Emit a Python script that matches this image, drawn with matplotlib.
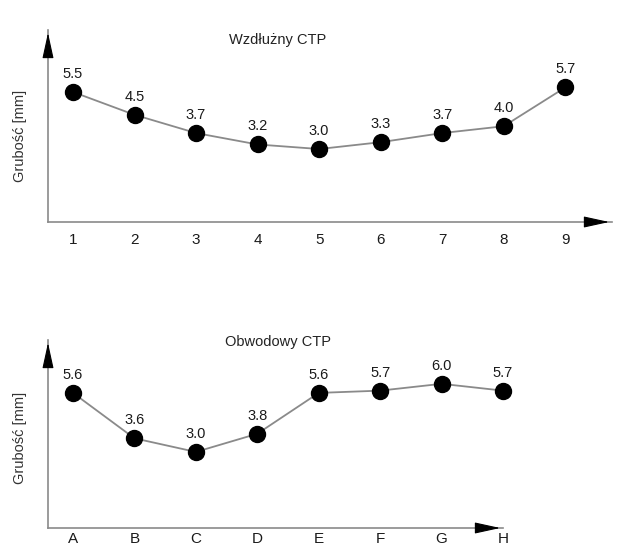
import matplotlib
matplotlib.use("Agg")
import matplotlib.pyplot as plt

plt.rcParams['font.family'] = ['Liberation Sans', 'DejaVu Sans']

# Data
top_labels = ['1', '2', '3', '4', '5', '6', '7', '8', '9']
top_values = [5.5, 4.5, 3.7, 3.2, 3.0, 3.3, 3.7, 4.0, 5.7]

bottom_labels = ['A', 'B', 'C', 'D', 'E', 'F', 'G', 'H']
bottom_values = [5.6, 3.6, 3.0, 3.8, 5.6, 5.7, 6.0, 5.7]

top_title = 'Wzdłużny CTP'
bottom_title = 'Obwodowy CTP'
ylabel = 'Grubość [mm]'

W, H = 628, 548
fig = plt.figure(figsize=(W / 100, H / 100), dpi=100)


def draw_panel(ax, labels, values, xmax, ylim, pad):
    x = list(range(1, len(labels) + 1))
    ax.plot(x, values, color='#8a8a8a', linewidth=1.3, zorder=2, clip_on=False)
    ax.plot(x, values, linestyle='none', marker='o', markersize=11.5,
            color='black', zorder=3, clip_on=False)
    for xi, v in zip(x, values):
        ax.annotate(f'{v:.1f}', (xi, v), xytext=(0, 8), textcoords='offset points',
                    ha='center', va='bottom', fontsize=10.5, color='#1a1a1a')
    ax.set_xlim(0.593, xmax)
    ax.set_ylim(*ylim)
    ax.set_xticks(x)
    ax.set_xticklabels(labels, fontsize=11, color='#1a1a1a')
    ax.set_yticks([])
    ax.tick_params(axis='x', length=0, pad=pad)
    for s in ['top', 'right']:
        ax.spines[s].set_visible(False)
    for s in ['left', 'bottom']:
        ax.spines[s].set_color('#8a8a8a')
        ax.spines[s].set_linewidth(1.2)
    # arrow heads
    ax.annotate('', xy=(0, 1), xytext=(0, 0.86), xycoords='axes fraction',
                arrowprops=dict(arrowstyle='-|>,head_length=1.6,head_width=0.35',
                                color='black', lw=0.8))
    ax.annotate('', xy=(1, 0), xytext=(0.955, 0), xycoords='axes fraction',
                arrowprops=dict(arrowstyle='-|>,head_length=1.6,head_width=0.35',
                                color='black', lw=0.8))
    ax.patch.set_alpha(0)


ax1 = fig.add_axes([48 / W, (H - 222) / H, (612 - 48) / W, 192 / H])
draw_panel(ax1, top_labels, top_values, 9.76, (-0.2, 8.22), 8)

ax2 = fig.add_axes([48 / W, (H - 528) / H, (503 - 48) / W, 188 / H])
draw_panel(ax2, bottom_labels, bottom_values, 7.99, (-0.35, 7.93), 3)

# titles and y labels
fig.text(278 / W, 1 - 40 / H, top_title, ha='center', va='center',
         fontsize=10.5, color='#222222')
fig.text(278 / W, 1 - 342 / H, bottom_title, ha='center', va='center',
         fontsize=10.5, color='#222222')
fig.text(20 / W, 1 - 136 / H, ylabel, rotation=90, ha='center', va='center',
         fontsize=10.5, color='#333333')
fig.text(20 / W, 1 - 438 / H, ylabel, rotation=90, ha='center', va='center',
         fontsize=10.5, color='#333333')

fig.savefig('out.png', dpi=100)
